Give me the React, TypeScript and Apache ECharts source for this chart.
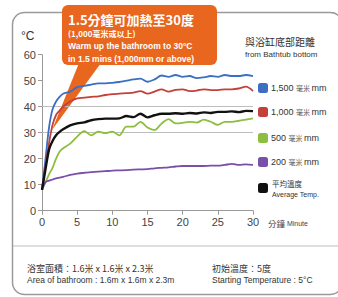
import React, { useEffect, useRef } from "react";
import * as echarts from "echarts";

const minutes = [0, 0.5, 1, 1.5, 2, 2.5, 3, 4, 5, 6, 7, 8, 9, 10, 11, 12, 13, 14, 15, 16, 17, 18, 19, 20, 21, 22, 23, 24, 25, 26, 27, 28, 29, 30];
const temp1500 = [8, 20, 32, 39, 42, 43.8, 45, 45.8, 47.5, 48, 48.5, 49, 49, 49.2, 49.5, 50, 50.5, 50.8, 49.6, 50.5, 52, 51.5, 52.2, 51.5, 51.8, 51, 51.3, 51.8, 51.5, 52.2, 51.8, 51.8, 52.2, 51.8];
const temp1000 = [8, 17, 26, 33, 36.8, 38.5, 40, 42, 43.2, 43.5, 43.8, 44, 44.5, 44.8, 45, 45.2, 45.4, 46, 45, 45.8, 46.7, 45.8, 46.5, 46.7, 46, 46.2, 46.7, 46.4, 46.4, 46.7, 46.7, 47, 47.7, 46];
const temp500 = [8, 11, 14, 16.5, 20, 22.7, 24, 25.8, 28.5, 30.6, 29, 30.4, 29.8, 30.4, 29, 32.3, 32.3, 34.2, 32, 31, 33.5, 35.2, 33.6, 33.8, 34.2, 33.9, 35, 34.2, 33, 34.2, 34.2, 34.6, 35, 35.5];
const temp200 = [8, 11, 11.6, 12, 12.4, 12.7, 13, 13.8, 14.3, 14.6, 14.8, 15, 15.2, 15.4, 15.5, 15.6, 15.8, 15.9, 16, 16.3, 16.5, 16.7, 17, 17.2, 17.2, 17.2, 17.2, 17.3, 17.3, 17.6, 18, 17.6, 17.8, 17.6];
const tempAvg = [8, 16, 23.5, 26.8, 29, 30.3, 31.3, 32.8, 33.6, 34, 34.8, 35.2, 35.4, 35.4, 35.5, 36.4, 36, 37.3, 35.9, 36.7, 37.3, 37.3, 37.5, 37.3, 37.6, 37.4, 37.8, 37.6, 38, 38, 38.2, 37.9, 38.4, 38.3];

const yTicks = [0, 10, 20, 30, 40, 50, 60];
const xTicks = [0, 5, 10, 15, 20, 25, 30];
const gridValues = [30, 40];

const seriesNames = ["1,500 毫米 mm", "1,000 毫米 mm", "500 毫米 mm", "200 毫米 mm", "平均溫度"];
const seriesData = [temp1500, temp1000, temp500, temp200, tempAvg];
const seriesColors = ["#3A6FC4", "#C4403A", "#8DBE3F", "#7A4FA8", "#111111"];

const CJK = "'Noto Sans CJK TC', 'Noto Sans', sans-serif";
const LAT = "'Liberation Sans', Arial, sans-serif";

export default function App() {
  const ref = useRef<HTMLDivElement>(null);
  useEffect(() => {
    if (!ref.current) return;
    const chart = echarts.init(ref.current, null, { renderer: "svg" });

    const series: any[] = seriesNames.map((name, i) => ({
      name,
      type: "line",
      data: minutes.map((m, j) => [m, seriesData[i][j]]),
      showSymbol: false,
      smooth: 0.3,
      lineStyle: { color: seriesColors[i], width: i === 4 ? 2.4 : 1.8 },
      itemStyle: { color: seriesColors[i] },
      z: i === 4 ? 3 : 2,
    }));
    series[0].markLine = {
      silent: true,
      symbol: "none",
      label: { show: false },
      lineStyle: { color: "#bdbdbd", width: 1, type: "solid" },
      data: gridValues.map((v) => ({ yAxis: v })),
      z: 1,
    };

    const legendTop = [88, 112, 138, 162, 188];
    const legendGraphics: any[] = [];
    seriesNames.forEach((name, i) => {
      legendGraphics.push({
        type: "rect",
        shape: { x: 258, y: legendTop[i] - 5, width: 10, height: 10, r: 2.5 },
        style: { fill: seriesColors[i] },
      });
      if (i < 4) {
        const parts = name.split(" ");
        legendGraphics.push({
          type: "text",
          x: 271,
          y: legendTop[i],
          style: {
            text: `{a|${parts[0]} }{b|${parts[1]} }{a|${parts[2]}}`,
            verticalAlign: "middle",
            rich: {
              a: { fontSize: 9, fontFamily: LAT, fill: "#333" },
              b: { fontSize: 7, fontFamily: CJK, fill: "#555" },
            },
          },
        });
      } else {
        legendGraphics.push({
          type: "text",
          x: 272,
          y: legendTop[i] - 5,
          style: { text: name, fontSize: 7.5, fontFamily: CJK, fill: "#333", verticalAlign: "middle" },
        });
        legendGraphics.push({
          type: "text",
          x: 272,
          y: legendTop[i] + 6,
          style: { text: "Average Temp.", fontSize: 7, fontFamily: LAT, fill: "#333", verticalAlign: "middle" },
        });
      }
    });

    chart.setOption({
      animation: false,
      backgroundColor: "#ffffff",
      grid: { left: 42, right: 85, top: 54.7, bottom: 86.3, containLabel: false },
      xAxis: {
        type: "value",
        min: 0,
        max: 30,
        interval: 5,
        axisLine: { show: true, lineStyle: { color: "#999", width: 1 } },
        axisTick: { show: true, length: 4, lineStyle: { color: "#999" } },
        axisLabel: {
          color: "#444",
          fontSize: 11,
          fontFamily: LAT,
          margin: 6,
          formatter: (v: number) => (xTicks.includes(v) ? String(v) : ""),
        },
        splitLine: { show: false },
      },
      yAxis: {
        type: "value",
        min: 0,
        max: 60,
        interval: 10,
        axisLine: { show: true, lineStyle: { color: "#999", width: 1 } },
        axisTick: { show: true, length: 4, lineStyle: { color: "#999" } },
        axisLabel: {
          color: "#444",
          fontSize: 11,
          fontFamily: LAT,
          margin: 6,
          formatter: (v: number) => (yTicks.includes(v) ? String(v) : ""),
        },
        splitLine: { show: false },
      },
      series,
      graphic: [
        {
          type: "rect",
          z: -10,
          shape: { x: 12.5, y: 12.5, width: 330, height: 282, r: 12 },
          style: { fill: "none", stroke: "#9a9a9a", lineWidth: 1.5 },
        },
        {
          type: "line",
          shape: { x1: 13, y1: 246, x2: 338, y2: 246 },
          style: { stroke: "#bdbdbd", lineWidth: 1 },
        },
        {
          type: "text",
          x: 21,
          y: 36,
          style: { text: "°C", fontSize: 12, fontFamily: LAT, fill: "#333", verticalAlign: "middle" },
        },
        {
          type: "rect",
          shape: { x: 62, y: 5, width: 155, height: 60, r: 6 },
          style: { fill: "#E8661E" },
        },
        {
          type: "polygon",
          shape: { points: [[79, 63], [101, 63], [52, 130]] },
          style: { fill: "#E8661E" },
        },
        {
          type: "text",
          x: 68,
          y: 19,
          style: { text: "1.5分鐘可加熱至30度", fontSize: 13, fontWeight: "bold", fontFamily: CJK, fill: "#ffffff", verticalAlign: "middle" },
        },
        {
          type: "text",
          x: 68,
          y: 33,
          style: { text: "(1,000毫米或以上)", fontSize: 8, fontWeight: "bold", fontFamily: CJK, fill: "#ffffff", verticalAlign: "middle" },
        },
        {
          type: "text",
          x: 68,
          y: 46,
          style: { text: "Warm up the bathroom to 30°C", fontSize: 8.5, fontWeight: "bold", fontFamily: LAT, fill: "#ffffff", verticalAlign: "middle" },
        },
        {
          type: "text",
          x: 68,
          y: 58.5,
          style: { text: "in 1.5 mins (1,000mm or above)", fontSize: 8.5, fontWeight: "bold", fontFamily: LAT, fill: "#ffffff", verticalAlign: "middle" },
        },
        {
          type: "text",
          x: 245,
          y: 41,
          style: { text: "與浴缸底部距離", fontSize: 10, fontFamily: CJK, fill: "#333", verticalAlign: "middle" },
        },
        {
          type: "text",
          x: 245,
          y: 54,
          style: { text: "from Bathtub bottom", fontSize: 8, fontFamily: LAT, fill: "#333", verticalAlign: "middle" },
        },
        {
          type: "text",
          x: 268,
          y: 223,
          style: {
            text: "{a|分鐘 }{b|Minute}",
            verticalAlign: "middle",
            rich: {
              a: { fontSize: 8.5, fontFamily: CJK, fill: "#444" },
              b: { fontSize: 7, fontFamily: LAT, fill: "#444" },
            },
          },
        },
        ...legendGraphics,
        {
          type: "text",
          x: 27,
          y: 268,
          style: { text: "浴室面積：1.6米 x 1.6米 x 2.3米", fontSize: 9, fontFamily: CJK, fill: "#333", verticalAlign: "middle" },
        },
        {
          type: "text",
          x: 27,
          y: 280,
          style: { text: "Area of bathroom : 1.6m x 1.6m x 2.3m", fontSize: 8.5, fontFamily: LAT, fill: "#333", verticalAlign: "middle" },
        },
        {
          type: "text",
          x: 212,
          y: 268,
          style: { text: "初始溫度：5度", fontSize: 9, fontFamily: CJK, fill: "#333", verticalAlign: "middle" },
        },
        {
          type: "text",
          x: 212,
          y: 280,
          style: { text: "Starting Temperature : 5°C", fontSize: 8.5, fontFamily: LAT, fill: "#333", verticalAlign: "middle" },
        },
      ],
    });
    return () => chart.dispose();
  }, []);

  return <div ref={ref} style={{ width: 338, height: 297, position: "fixed", left: 0, top: 0 }} />;
}
